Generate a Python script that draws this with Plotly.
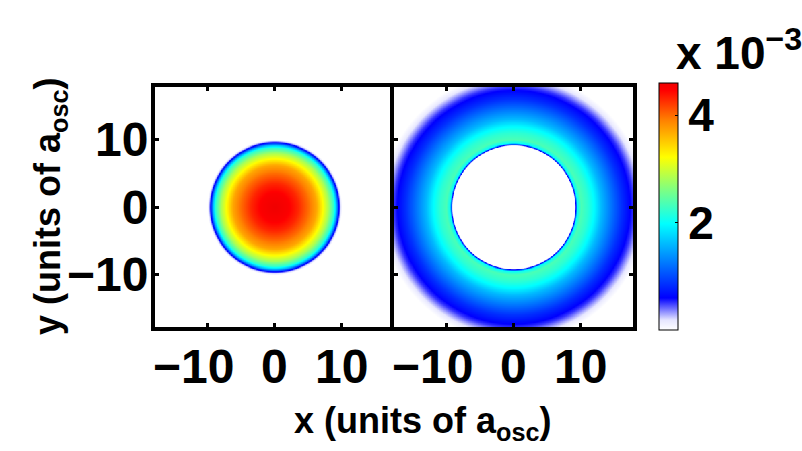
import numpy as np
import plotly.graph_objects as go

# Radial density profiles (units of 1e-3)
radius_left = [0, 2, 3.5, 5, 6.2, 7, 8, 8.8, 9.2, 9.5, 9.75, 10.0, 30]
density_left = [4.6, 4.5, 4.3, 4.0, 3.7, 3.3, 2.8, 2.2, 1.5, 0.7, 0.25, 0.0, 0.0]

radius_right = [0, 9.05, 9.2, 9.45, 10, 11, 12, 13, 14, 15, 16, 17, 17.8, 18.5, 19.2, 19.8, 30]
density_right = [0, 0, 0.5, 2.0, 2.35, 2.2, 1.95, 1.6, 1.35, 1.1, 0.85, 0.65, 0.5, 0.3, 0.12, 0.0, 0.0]

x_ticks = [-10, 0, 10]
y_ticks = [-10, 0, 10]
cbar_ticks = [2, 4]
axis_range = [-17.75, 17.75]
z_max = 4.6

grid = np.linspace(-18, 18, 361)
X, Y = np.meshgrid(grid, grid)
R = np.sqrt(X**2 + Y**2)
z_left = np.interp(R, radius_left, density_left)
z_right = np.interp(R, radius_right, density_right)

colorscale = [
    [0.0, "#ffffff"],
    [0.04, "#e6e6ff"],
    [0.13, "#0000ff"],
    [0.28, "#0080ff"],
    [0.43, "#00ffff"],
    [0.57, "#80ff80"],
    [0.70, "#ffff00"],
    [0.85, "#ff8000"],
    [0.97, "#ff0000"],
    [1.0, "#f00000"],
]

W, H = 802, 451
fig = go.Figure()
fig.add_trace(go.Heatmap(x=grid, y=grid, z=z_left, xaxis="x", yaxis="y",
                         colorscale=colorscale, zmin=0, zmax=z_max, zsmooth="best",
                         showscale=False))
fig.add_trace(go.Heatmap(x=grid, y=grid, z=z_right, xaxis="x2", yaxis="y2",
                         colorscale=colorscale, zmin=0, zmax=z_max, zsmooth="best",
                         showscale=True,
                         colorbar=dict(
                             x=659 / W, xanchor="left", xref="paper",
                             y=1 - 206.5 / H, yanchor="middle",
                             len=247 / H, lenmode="fraction",
                             thickness=19, thicknessmode="pixels",
                             outlinewidth=1, outlinecolor="black",
                             tickvals=cbar_ticks, ticktext=[str(t) for t in cbar_ticks],
                             ticks="inside", ticklen=3, tickcolor="black",
                             tickfont=dict(family="Liberation Sans", size=46, color="black", weight="bold"),
                             ypad=0, xpad=0,
                         )))

font = dict(family="Liberation Sans", size=48, color="black", weight="bold")
ax_common = dict(range=axis_range, showgrid=False, zeroline=False, showline=True,
                 linecolor="black", linewidth=4, mirror="allticks", ticks="inside",
                 ticklen=4, tickwidth=3, tickcolor="black", tickfont=font)

fig.update_layout(
    width=W, height=H, margin=dict(l=0, r=0, t=0, b=0),
    paper_bgcolor="white", plot_bgcolor="white",
    xaxis=dict(domain=[155 / W, 394 / W], tickvals=x_ticks, anchor="y",
               showticklabels=False, **ax_common),
    yaxis=dict(domain=[1 - 327 / H, 1 - 87 / H], tickvals=y_ticks, anchor="x",
               ticklabelstandoff=-7, **ax_common),
    xaxis2=dict(domain=[394 / W, 633 / W], tickvals=x_ticks, anchor="y2",
                showticklabels=False, **ax_common),
    yaxis2=dict(domain=[1 - 327 / H, 1 - 87 / H], tickvals=y_ticks, anchor="x2",
                showticklabels=False, **ax_common),
    showlegend=False,
)

# x tick labels: the number is centred on the tick, the minus sign hangs to the left
for xref in ("x", "x2"):
    for t in x_ticks:
        label = ("\u2212" + str(abs(t))) if t < 0 else str(t)
        fig.add_annotation(text=label, xref=xref, yref="paper", x=t, y=1 - 366 / H,
                           xanchor="center", yanchor="middle", showarrow=False,
                           xshift=-14 if t < 0 else 0, font=font)

title_font = dict(family="Liberation Sans", size=36, color="black", weight="bold")
fig.add_annotation(text="x (units of a<sub>osc</sub>)", xref="paper", yref="paper",
                   x=422 / W, y=1 - 423 / H, xanchor="center", yanchor="middle",
                   showarrow=False, font=title_font)
fig.add_annotation(text="y (units of a<sub>osc</sub>)", xref="paper", yref="paper",
                   x=50 / W, y=1 - 207 / H, xanchor="center", yanchor="middle",
                   textangle=-90, showarrow=False, font=title_font)
fig.add_annotation(text="x 10<sup>\u22123</sup>", xref="paper", yref="paper",
                   x=674 / W, y=1 - 50 / H, xanchor="left", yanchor="middle",
                   showarrow=False, font=dict(family="Liberation Sans", size=46, color="black", weight="bold"))

fig.write_html("out.html")
